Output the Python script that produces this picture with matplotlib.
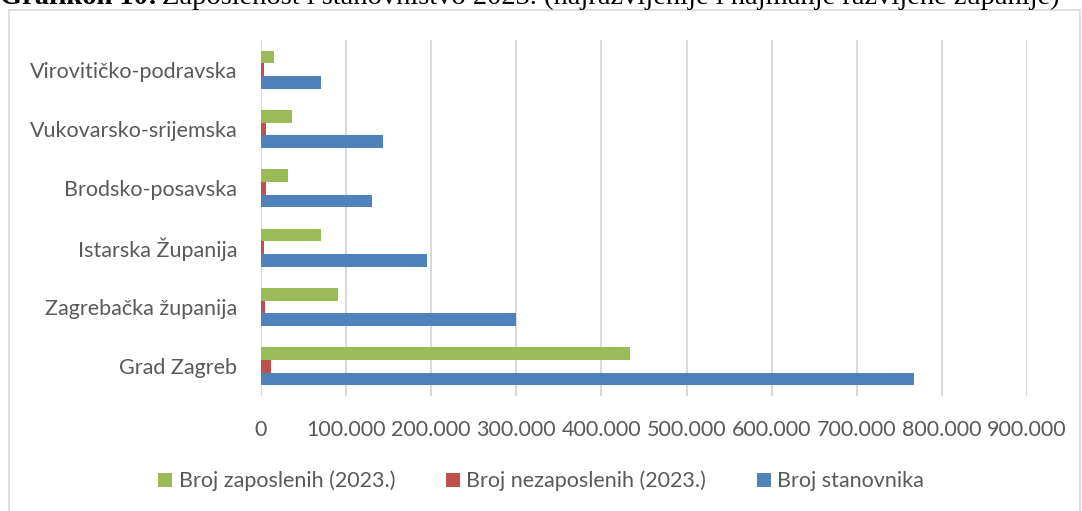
import matplotlib
matplotlib.use("Agg")
import matplotlib.pyplot as plt
from matplotlib.patches import Rectangle
from matplotlib.ticker import FuncFormatter
import numpy as np

# podaci (procijenjeno s grafikona)
zupanije = ['Grad Zagreb', 'Zagrebačka županija', 'Istarska Županija',
            'Brodsko-posavska', 'Vukovarsko-srijemska', 'Virovitičko-podravska']
stanovnici = [767000, 300000, 195000, 131000, 143500, 70500]
nezaposleni = [12000, 5000, 3000, 5500, 5500, 3500]
zaposleni = [434000, 90000, 70500, 31500, 36000, 15500]

xticks = [0, 100000, 200000, 300000, 400000, 500000, 600000, 700000, 800000, 900000]

zelena = '#9BBB59'
crvena = '#C0504D'
plava = '#4F81BD'
siva = '#595959'

plt.rcParams['font.family'] = ['Lato', 'DejaVu Sans']

W, H = 1082, 511
fig = plt.figure(figsize=(W / 100, H / 100), dpi=100)

# okvir grafikona
fig.patches.append(Rectangle((9 / W, -0.01), (1080 - 9) / W, 1.01 - 10 / H,
                             transform=fig.transFigure, fill=False,
                             edgecolor='#d9d9d9', linewidth=1.2))

ax = fig.add_axes([261 / W, 1 - 396 / H, 766 / W, 356 / H])

y = np.arange(len(zupanije))
h = 0.214
ax.barh(y - h, stanovnici, height=h, color=plava, label='Broj stanovnika', zorder=3)
ax.barh(y, nezaposleni, height=h, color=crvena, label='Broj nezaposlenih (2023.)', zorder=3)
ax.barh(y + h, zaposleni, height=h, color=zelena, label='Broj zaposlenih (2023.)', zorder=3)

ax.set_xlim(0, 900000)
ax.set_ylim(-0.5, len(zupanije) - 0.5)
ax.set_xticks(xticks)
ax.xaxis.set_major_formatter(FuncFormatter(lambda v, p: '0' if v == 0 else f'{int(v):,}'.replace(',', '.')))
ax.set_yticks(y)
ax.set_yticklabels(zupanije)
ax.tick_params(axis='both', length=0, colors=siva, labelsize=15.5)
ax.tick_params(axis='x', pad=17)
ax.tick_params(axis='y', pad=17)
ax.grid(axis='x', color='#d9d9d9', linewidth=1.5, zorder=0)
for s in ax.spines.values():
    s.set_visible(False)

handles, labels = ax.get_legend_handles_labels()
leg = fig.legend(handles[::-1], labels[::-1], loc='center', bbox_to_anchor=(0.5, 1 - 481 / H),
                 ncol=3, frameon=False, fontsize=15.5, handlelength=0.65, handleheight=0.65,
                 handletextpad=0.3, columnspacing=2.35)
for t in leg.get_texts():
    t.set_color(siva)

# naslov (gornji dio je odrezan kao na izvorniku)
ty = 1 - 4 / H
t1 = fig.text(0.0, ty, 'Grafikon 10:', fontfamily='Liberation Serif', fontweight='bold',
              fontsize=20.5, va='baseline', ha='left')
r = fig.canvas.get_renderer()
bb = t1.get_window_extent(renderer=r)
fig.text((bb.x1 + 5) / W, ty, 'Zaposlenost i stanovništvo 2023. (najrazvijenije i najmanje razvijene županije)',
         fontfamily='Liberation Serif', fontsize=20.5, va='baseline', ha='left')

fig.savefig('out.png', dpi=100)
